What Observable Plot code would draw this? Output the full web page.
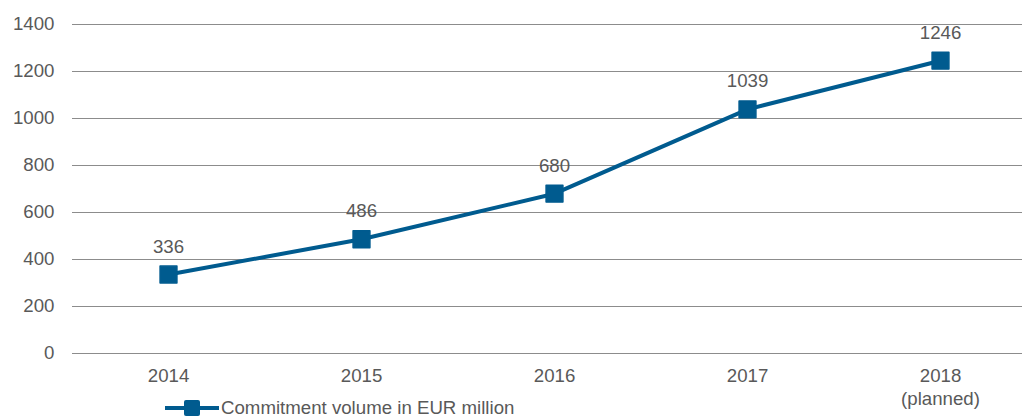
<!DOCTYPE html>
<html>
<head>
<meta charset="utf-8">
<script src="https://cdn.jsdelivr.net/npm/d3@7"></script>
<script src="https://cdn.jsdelivr.net/npm/@observablehq/plot@0.6"></script>
<style>
  html, body { margin: 0; padding: 0; background: #fff; }
  #wrap { position: relative; width: 1027px; height: 417px; font-family: "Liberation Sans", Arial, sans-serif; }
  #legend { position: absolute; left: 164px; top: 397px; display: flex; align-items: center; font-size: 18.67px; color: #595959; white-space: nowrap; }
  #legend svg { margin-right: 1px; }
</style>
</head>
<body>
<div id="wrap"></div>
<script>
const years = ["2014", "2015", "2016", "2017", "2018"];
const yearLabels = ["2014", "2015", "2016", "2017", "2018\n(planned)"];
const values = [336, 486, 680, 1039, 1246];
const yTicks = [0, 200, 400, 600, 800, 1000, 1200, 1400];
const seriesName = "Commitment volume in EUR million";
const lineColor = "#005B8F";
const textColor = "#595959";
const fs = 18.67;

const data = years.map((y, i) => ({year: y, value: values[i]}));
const labelOf = new Map(years.map((y, i) => [y, yearLabels[i]]));

const chart = Plot.plot({
  width: 1027,
  height: 417,
  marginTop: 24,
  marginBottom: 64,
  marginLeft: 72,
  marginRight: 5,
  style: {fontFamily: '"Liberation Sans", Arial, sans-serif', fontSize: fs + "px", color: textColor, background: "#fff"},
  x: {type: "point", domain: years, padding: 0.5, range: [71, 1037]},
  y: {domain: [0, 1400]},
  marks: [
    Plot.gridY(yTicks, {stroke: "#8c8c8c", strokeOpacity: 1, strokeWidth: 1}),
    Plot.axisY(yTicks, {tickSize: 0, tickPadding: 18, label: null, fill: textColor, fontSize: fs, tickFormat: d => String(d)}),
    Plot.axisX(years, {tickSize: 0, tickPadding: 12, label: null, fill: textColor, fontSize: fs, lineHeight: 1.25, tickFormat: d => labelOf.get(d)}),
    Plot.line(data, {x: "year", y: "value", stroke: lineColor, strokeWidth: 4}),
    Plot.dot(data, {x: "year", y: "value", symbol: "square", r: 9.5, fill: lineColor, stroke: lineColor, strokeWidth: 1.5, strokeLinejoin: "round"}),
    Plot.text(data, {x: "year", y: "value", text: d => String(d.value), dy: -28, fill: textColor, fontSize: fs})
  ]
});

const wrap = document.getElementById("wrap");
wrap.appendChild(chart);

const legend = document.createElement("div");
legend.id = "legend";
legend.innerHTML = `<svg width="56" height="20" viewBox="0 0 56 20"><line x1="1" y1="10" x2="55" y2="10" stroke="${lineColor}" stroke-width="4"/><rect x="20" y="2" width="16" height="16" rx="2" fill="${lineColor}"/></svg><span></span>`;
legend.querySelector("span").textContent = seriesName;
wrap.appendChild(legend);
</script>
</body>
</html>
